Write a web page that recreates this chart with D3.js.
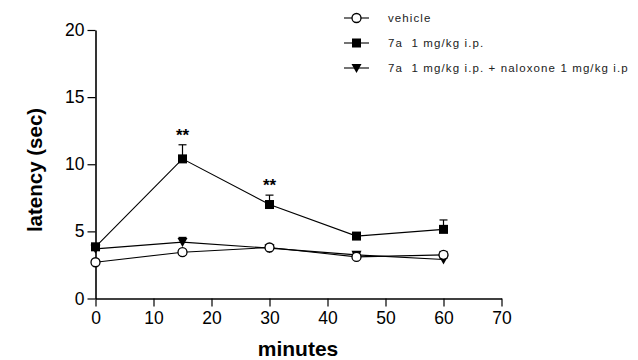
<!DOCTYPE html>
<html><head><meta charset="utf-8">
<script src="https://cdn.jsdelivr.net/npm/d3@7"></script>
<style>body{margin:0;background:#fff;} svg{display:block;}</style>
</head><body>
<svg id="c" width="638" height="360"></svg>
<script>
const minutes = [0, 15, 30, 45, 60];
const vehicle = [2.7, 3.45, 3.8, 3.1, 3.25];
const vehicleErr = [0.15, 0.15, 0.2, 0.15, 0.25];
const drug = [3.85, 10.4, 7.0, 4.65, 5.15];
const drugErr = [0.2, 1.05, 0.7, 0.15, 0.7];
const nalox = [3.7, 4.2, 3.75, 3.25, 2.9];
const naloxErr = [0.1, 0.35, 0.1, 0.15, 0.1];
const xTicks = [0, 10, 20, 30, 40, 50, 60, 70];
const yTicks = [0, 5, 10, 15, 20];
const seriesNames = ["vehicle", "7a  1 mg/kg i.p.", "7a  1 mg/kg i.p. + naloxone 1 mg/kg i.p"];
const sigLabels = [{t: 15, label: "**"}, {t: 30, label: "**"}];

const svg = d3.select("#c");
const x = d3.scaleLinear().domain([0, 70]).range([95.5, 501.5]);
const y = d3.scaleLinear().domain([0, 20]).range([298.5, 30]);

const font = "Liberation Sans, Arial, sans-serif";

// axes
const xAxis = svg.append("g").attr("transform", `translate(0,${y(0)})`)
  .call(d3.axisBottom(x).tickValues(xTicks).tickSize(8).tickSizeOuter(0).tickPadding(5));
const yAxis = svg.append("g").attr("transform", `translate(${x(0)},0)`)
  .call(d3.axisLeft(y).tickValues(yTicks).tickSize(8).tickSizeOuter(0).tickPadding(3));
[xAxis, yAxis].forEach(g => {
  g.select(".domain").attr("stroke", "#000").attr("stroke-width", 1.6);
  g.selectAll(".tick line").attr("stroke", "#000").attr("stroke-width", 1.2);
  g.selectAll(".tick text").attr("font-family", font).attr("font-size", 17.5).attr("fill", "#000");
});

// axis titles
svg.append("text").attr("x", 298).attr("y", 356).attr("text-anchor", "middle")
  .attr("font-family", font).attr("font-weight", "bold").attr("font-size", 21).text("minutes");
svg.append("text").attr("transform", "translate(42,170) rotate(-90)").attr("text-anchor", "middle")
  .attr("font-family", font).attr("font-weight", "bold").attr("font-size", 20.5).text("latency (sec)");

const series = [
  {vals: vehicle, err: vehicleErr, marker: "circle"},
  {vals: drug, err: drugErr, marker: "square"},
  {vals: nalox, err: naloxErr, marker: "triangle"}
];

const line = d3.line().x((d, i) => x(minutes[i])).y(d => y(d));

function drawMarker(g, type, cx, cy) {
  if (type === "circle") {
    g.append("circle").attr("cx", cx).attr("cy", cy).attr("r", 4.5)
      .attr("fill", "#fff").attr("stroke", "#000").attr("stroke-width", 1.3);
  } else if (type === "square") {
    g.append("rect").attr("x", cx - 4.5).attr("y", cy - 4.5).attr("width", 9).attr("height", 9).attr("fill", "#000");
  } else {
    g.append("path").attr("d", `M${cx - 5},${cy - 4} L${cx + 5},${cy - 4} L${cx},${cy + 5} Z`).attr("fill", "#000");
  }
}

// draw order: naloxone, drug, vehicle on top
[2, 1, 0].forEach(si => {
  const s = series[si];
  const g = svg.append("g");
  s.vals.forEach((v, i) => {
    const cx = x(minutes[i]);
    g.append("line").attr("x1", cx).attr("x2", cx).attr("y1", y(v)).attr("y2", y(v + s.err[i]))
      .attr("stroke", "#000").attr("stroke-width", 1.2);
    g.append("line").attr("x1", cx - 4).attr("x2", cx + 4).attr("y1", y(v + s.err[i])).attr("y2", y(v + s.err[i]))
      .attr("stroke", "#000").attr("stroke-width", 1.2);
  });
  g.append("path").datum(s.vals).attr("d", line).attr("fill", "none")
    .attr("stroke", "#000").attr("stroke-width", 1.1);
  s.vals.forEach((v, i) => drawMarker(g, s.marker, x(minutes[i]), y(v)));
});

// significance
sigLabels.forEach(d => {
  const i = minutes.indexOf(d.t);
  svg.append("text").attr("x", x(d.t)).attr("y", y(drug[i] + drugErr[i]) - 4)
    .attr("text-anchor", "middle").attr("font-family", font).attr("font-weight", "bold")
    .attr("font-size", 17).text(d.label);
});

// legend
const legY = [18, 43, 68];
const legMarkers = ["circle", "square", "triangle"];
seriesNames.forEach((name, i) => {
  const g = svg.append("g");
  g.append("line").attr("x1", 344).attr("x2", 369).attr("y1", legY[i]).attr("y2", legY[i])
    .attr("stroke", "#000").attr("stroke-width", 1.1);
  drawMarker(g, legMarkers[i], 356.5, legY[i]);
  g.append("text").attr("x", 388).attr("y", legY[i] + 4).attr("font-family", font)
    .attr("font-size", 11.5).attr("letter-spacing", 1.1).attr("fill", "#222")
    .style("white-space", "pre").text(name);
});
</script>
</body></html>
